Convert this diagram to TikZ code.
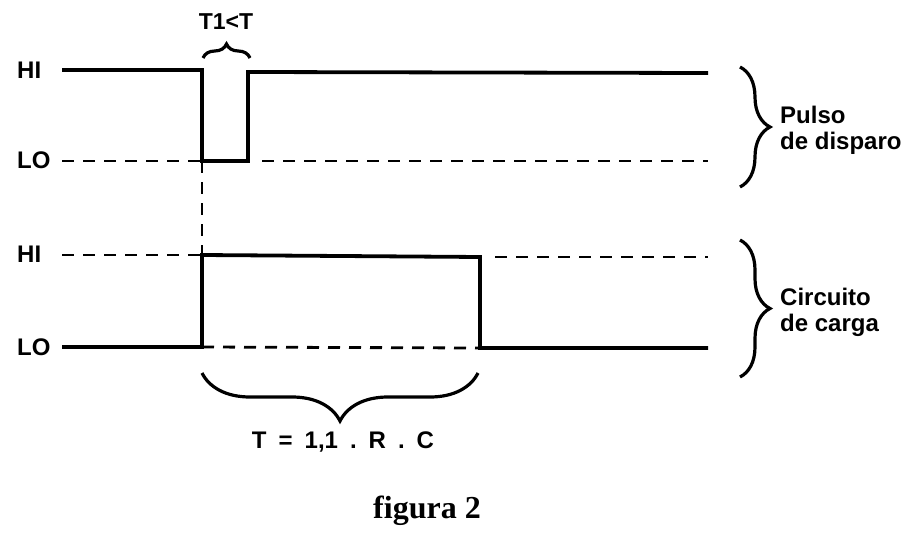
\documentclass[tikz,border=0pt]{standalone}
\usepackage{fontspec}
\setmainfont{Liberation Sans}
\newfontfamily\captionfont{Liberation Serif}
\usetikzlibrary{decorations.pathreplacing,positioning}
\tikzset{
    sig/.style={line width=3.8pt, line join=miter},
    lvl/.style={line width=2.8pt, dash pattern=on 12pt off 9pt},
    lvllabel/.style={font=\bfseries\fontsize{24}{26}\selectfont, inner sep=0, anchor=west},
    tag/.style={font=\bfseries\fontsize{24}{26}\selectfont, inner sep=0, anchor=west, align=left},
    brc/.style={decorate, line width=3.2pt},
}

\begin{document}
\begin{tikzpicture}[x=1pt, y=-1pt]
        \useasboundingbox (0,0) rectangle (922,543);

        % pulso de disparo
        \coordinate (a0) at (62, 70);
        \coordinate (a1) at (202, 70);
        \coordinate (a2) at (202, 161);
        \coordinate (a3) at (248, 161);
        \coordinate (a4) at (248, 72);
        \coordinate (a5) at (708, 73);
        \coordinate (alo0) at (62, 161);
        \coordinate (alo1) at (262, 161);
        \coordinate (alo2) at (708, 161);

        % circuito de carga
        \coordinate (b0) at (62, 347);
        \coordinate (b1) at (202, 347);
        \coordinate (b2) at (202, 255);
        \coordinate (b3) at (480, 257);
        \coordinate (b4) at (480, 348);
        \coordinate (b5) at (708, 348);
        \coordinate (bhi0) at (62, 255);
        \coordinate (bhi1) at (495, 257);
        \coordinate (bhi2) at (708, 257);

        \node [lvllabel] (hia) at (17, 70) {HI};
        \node [lvllabel] (loa) at (17, 160) {LO};
        \node [lvllabel] (hib) at (17, 254) {HI};
        \node [lvllabel] (lob) at (17, 347) {LO};

        \draw [sig] (a0) -- (a1) -- (a2) -- (a3) -- (a4) -- (a5);
        \draw [lvl] (alo0) -- (a2);
        \draw [lvl] (alo1) -- (alo2);
        \draw [lvl] (a2) -- (b2);

        \draw [sig] (b0) -- (b1) -- (b2) -- (b3) -- (b4) -- (b5);
        \draw [lvl] (bhi0) -- (b2);
        \draw [lvl] (bhi1) -- (bhi2);
        \draw [lvl] (b1) -- (b4);

        % llaves
        \draw [brc, decoration={brace, amplitude=14pt}] (203, 58) -- (250, 58);
        \node [font=\bfseries\fontsize{23}{26}\selectfont, inner sep=0] (t1) at (226, 22) {T1<T};

        \draw [brc, decoration={brace, amplitude=48pt}] (478, 373) -- (202, 373);
        \node [font=\bfseries\fontsize{24}{26}\selectfont, inner sep=0] (t) at (343, 442)
            {T\enspace=\enspace1,1\enspace.\enspace R\enspace.\enspace C};

        \draw [brc, decoration={brace, amplitude=30pt}] (740, 67) -- (740, 187);
        \node [tag] (pulso) at (780, 130) {Pulso\\de disparo};

        \draw [brc, decoration={brace, amplitude=30pt}] (740, 240) -- (740, 377);
        \node [tag] (carga) at (780, 312) {Circuito\\de carga};

        \node [font=\captionfont\bfseries\fontsize{32}{36}\selectfont, inner sep=0] (fig) at (427, 511) {figura 2};
      \end{tikzpicture}
\end{document}
